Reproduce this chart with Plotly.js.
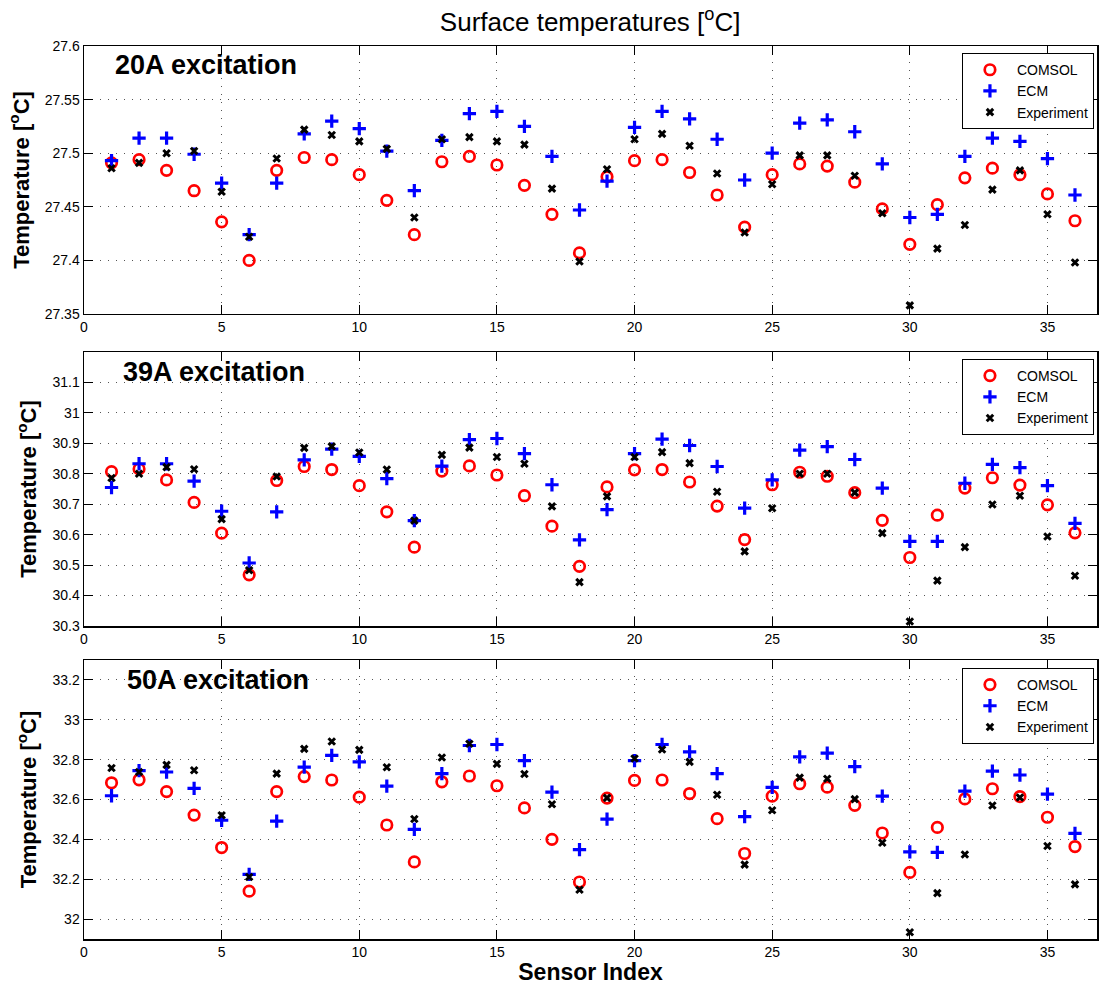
<!DOCTYPE html>
<html>
<head>
<meta charset="utf-8">
<script src="https://cdn.plot.ly/plotly-3.0.1.min.js"></script>
<style>
  html, body { margin: 0; padding: 0; background: #fff; }
  #chart { width: 1099px; height: 985px; }
</style>
</head>
<body>
<div id="chart"></div>
<script>
// Sensor positions 1..36
const sensorIndex = Array.from({length: 36}, (_, i) => i + 1);

// 20 A excitation
const comsol20 = [27.491, 27.494, 27.484, 27.465, 27.436, 27.400, 27.484, 27.496, 27.494, 27.480, 27.456, 27.424,
                  27.492, 27.497, 27.489, 27.470, 27.443, 27.407, 27.478, 27.493, 27.494, 27.482, 27.461, 27.431,
                  27.480, 27.490, 27.488, 27.473, 27.448, 27.415, 27.452, 27.477, 27.486, 27.480, 27.462, 27.437];
const ecm20 =    [27.493, 27.514, 27.514, 27.499, 27.472, 27.424, 27.472, 27.518, 27.530, 27.523, 27.502, 27.465,
                  27.512, 27.537, 27.539, 27.525, 27.497, 27.447, 27.474, 27.524, 27.539, 27.532, 27.513, 27.475,
                  27.500, 27.528, 27.531, 27.520, 27.490, 27.440, 27.443, 27.497, 27.514, 27.511, 27.495, 27.461];
const exp20 =    [27.486, 27.491, 27.500, 27.502, 27.464, 27.422, 27.495, 27.522, 27.517, 27.511, 27.504, 27.440,
                  27.513, 27.515, 27.511, 27.508, 27.467, 27.399, 27.485, 27.513, 27.518, 27.507, 27.481, 27.426,
                  27.471, 27.498, 27.498, 27.479, 27.444, 27.358, 27.411, 27.433, 27.466, 27.484, 27.443, 27.398];

// 39 A excitation
const comsol39 = [30.807, 30.816, 30.780, 30.706, 30.605, 30.468, 30.778, 30.824, 30.814, 30.761, 30.675, 30.559,
                  30.809, 30.826, 30.796, 30.728, 30.628, 30.496, 30.757, 30.813, 30.814, 30.773, 30.694, 30.584,
                  30.764, 30.805, 30.792, 30.738, 30.647, 30.525, 30.664, 30.753, 30.787, 30.763, 30.698, 30.606];
const ecm39 =    [30.755, 30.833, 30.833, 30.776, 30.677, 30.507, 30.675, 30.846, 30.881, 30.857, 30.784, 30.646,
                  30.825, 30.912, 30.916, 30.866, 30.764, 30.583, 30.682, 30.866, 30.914, 30.893, 30.824, 30.687,
                  30.780, 30.878, 30.889, 30.847, 30.753, 30.578, 30.578, 30.769, 30.831, 30.820, 30.761, 30.637];
const exp39 =    [30.786, 30.800, 30.822, 30.815, 30.651, 30.483, 30.791, 30.885, 30.890, 30.870, 30.814, 30.646,
                  30.862, 30.886, 30.855, 30.833, 30.693, 30.444, 30.726, 30.855, 30.871, 30.835, 30.741, 30.545,
                  30.687, 30.800, 30.800, 30.738, 30.605, 30.315, 30.449, 30.559, 30.699, 30.728, 30.594, 30.465];

// 50 A excitation
const comsol50 = [32.684, 32.699, 32.640, 32.522, 32.359, 32.140, 32.640, 32.715, 32.698, 32.612, 32.472, 32.287,
                  32.689, 32.718, 32.669, 32.558, 32.400, 32.186, 32.607, 32.696, 32.698, 32.630, 32.504, 32.329,
                  32.617, 32.679, 32.662, 32.571, 32.432, 32.234, 32.460, 32.603, 32.654, 32.615, 32.511, 32.364];
const ecm50 =    [32.619, 32.745, 32.738, 32.656, 32.496, 32.224, 32.492, 32.763, 32.822, 32.789, 32.667, 32.450,
                  32.730, 32.871, 32.876, 32.795, 32.637, 32.349, 32.502, 32.795, 32.876, 32.839, 32.730, 32.514,
                  32.661, 32.814, 32.833, 32.765, 32.617, 32.337, 32.335, 32.642, 32.742, 32.723, 32.627, 32.430];
const exp50 =    [32.758, 32.738, 32.774, 32.747, 32.521, 32.211, 32.730, 32.854, 32.891, 32.849, 32.762, 32.502,
                  32.811, 32.880, 32.779, 32.728, 32.576, 32.147, 32.608, 32.806, 32.851, 32.789, 32.624, 32.273,
                  32.546, 32.710, 32.704, 32.602, 32.383, 31.934, 32.130, 32.324, 32.570, 32.610, 32.367, 32.174];

// Axis ticks
const xTicks = [0, 5, 10, 15, 20, 25, 30, 35];
const yTicks20 = [27.35, 27.4, 27.45, 27.5, 27.55, 27.6];
const yTicks39 = [30.3, 30.4, 30.5, 30.6, 30.7, 30.8, 30.9, 31, 31.1];
const yTicks50 = [32, 32.2, 32.4, 32.6, 32.8, 33, 33.2];

const panelLabels = ['20A excitation', '39A excitation', '50A excitation'];
const seriesNames = ['COMSOL', 'ECM', 'Experiment'];

const FONT = 'Liberation Sans, Arial, Helvetica, sans-serif';

const markerStyles = [
  {symbol: 'circle-open', size: 10.5, color: '#ff0000', line: {color: '#ff0000', width: 2.7}},
  {symbol: 'cross-thin-open', size: 9.5, color: '#0000ff', line: {color: '#0000ff', width: 3.2}},
  {symbol: 'x-thin-open', size: 6.5, color: '#000000', line: {color: '#000000', width: 3}}
];

const panels = [
  {series: [comsol20, ecm20, exp20], ticks: yTicks20, range: [27.35, 27.6]},
  {series: [comsol39, ecm39, exp39], ticks: yTicks39, range: [30.3, 31.2]},
  {series: [comsol50, ecm50, exp50], ticks: yTicks50, range: [31.9, 33.3]}
];

const traces = [];
panels.forEach((p, pi) => {
  const suffix = pi === 0 ? '' : String(pi + 1);
  p.series.forEach((vals, si) => {
    traces.push({
      type: 'scatter',
      mode: 'markers',
      x: sensorIndex,
      y: vals,
      name: seriesNames[si],
      xaxis: 'x' + suffix,
      yaxis: 'y' + suffix,
      legend: 'legend' + suffix,
      marker: markerStyles[si],
      cliponaxis: false
    });
  });
});

// vertical domains of the three stacked panels
const domains = [[0.6999, 1.0], [0.3505, 0.6573], [0.0, 0.3124]];

function xAxis(pi) {
  const ax = {
    domain: [0, 1],
    range: [0, 36.8],
    tickvals: xTicks,
    ticktext: xTicks.map(String),
    ticks: 'inside',
    ticklen: 9,
    tickwidth: 1,
    tickcolor: '#000',
    showline: true,
    linecolor: '#000',
    linewidth: 1.5,
    mirror: 'ticks',
    showgrid: true,
    gridcolor: '#555',
    gridwidth: 1,
    griddash: '1px,7px',
    zeroline: false,
    tickfont: {family: FONT, size: 14, color: '#000'},
    anchor: pi === 0 ? 'y' : 'y' + (pi + 1)
  };
  if (pi === 2) {
    ax.title = {text: 'Sensor Index', font: {family: FONT, size: 23, color: '#000', weight: 'bold'}, standoff: 1};
  }
  return ax;
}

function yAxis(pi) {
  const p = panels[pi];
  return {
    domain: domains[pi],
    range: p.range,
    tickvals: p.ticks,
    ticktext: p.ticks.map(String),
    ticks: 'inside',
    ticklen: 9,
    tickwidth: 1,
    tickcolor: '#000',
    showline: true,
    linecolor: '#000',
    linewidth: 1.5,
    mirror: 'ticks',
    showgrid: true,
    gridcolor: '#555',
    gridwidth: 1,
    griddash: '1px,7px',
    zeroline: false,
    tickfont: {family: FONT, size: 14, color: '#000'},
    title: {text: 'Temperature [<sup>o</sup>C]', font: {family: FONT, size: 22, color: '#000', weight: 'bold'}, standoff: 9},
    anchor: pi === 0 ? 'x' : 'x' + (pi + 1)
  };
}

function legendBox(yTop) {
  return {
    x: 0.997, y: yTop, xanchor: 'right', yanchor: 'top',
    bgcolor: '#fff', bordercolor: '#000', borderwidth: 1,
    font: {family: FONT, size: 14, color: '#000'},
    itemwidth: 44,
    tracegroupgap: 0
  };
}

const labelY = [0.929, 0.927, 0.928];
const labelX = [0.029, 0.037, 0.040];
const annotations = panelLabels.map((t, pi) => ({
  text: t,
  xref: (pi === 0 ? 'x' : 'x' + (pi + 1)) + ' domain',
  yref: (pi === 0 ? 'y' : 'y' + (pi + 1)) + ' domain',
  x: labelX[pi], y: labelY[pi],
  xanchor: 'left', yanchor: 'middle',
  showarrow: false,
  font: {family: FONT, size: 27, color: '#000', weight: 'bold'}
}));

const layout = {
  width: 1099,
  height: 985,
  paper_bgcolor: '#fff',
  plot_bgcolor: '#fff',
  margin: {l: 84, r: 2, t: 46, b: 46},
  showlegend: true,
  title: {
    text: 'Surface temperatures [<sup>o</sup>C]',
    font: {family: FONT, size: 26, color: '#000'},
    x: 0.537, xanchor: 'center',
    y: 0.978, yanchor: 'middle', yref: 'container'
  },
  xaxis: xAxis(0), xaxis2: xAxis(1), xaxis3: xAxis(2),
  yaxis: yAxis(0), yaxis2: yAxis(1), yaxis3: yAxis(2),
  legend: legendBox(0.992),
  legend2: legendBox(0.6495),
  legend3: legendBox(0.3035),
  annotations: annotations
};

Plotly.newPlot('chart', traces, layout, {displayModeBar: false, staticPlot: true});
</script>
</body>
</html>
